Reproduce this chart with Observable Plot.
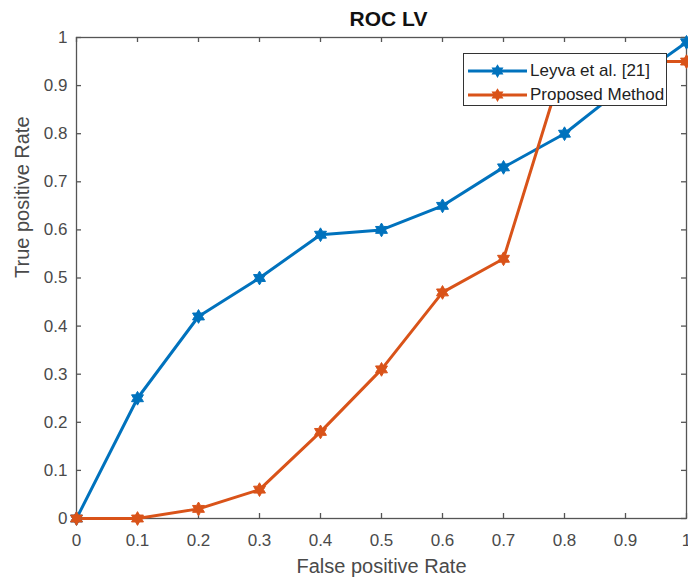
<!DOCTYPE html>
<html><head><meta charset="utf-8">
<script src="https://cdn.jsdelivr.net/npm/d3@7"></script>
<script src="https://cdn.jsdelivr.net/npm/@observablehq/plot@0.6"></script>
<style>
body{margin:0;background:#fff;font-family:"Liberation Sans",Arial,sans-serif;}
#wrap{position:relative;width:688px;height:581px;overflow:hidden;background:#fff}
#legend{position:absolute;left:463px;top:53px;width:204px;height:53px;border:1px solid #333;background:#fff;box-sizing:border-box}
.row{position:absolute;left:0;height:24px;display:flex;align-items:center}
.row svg{margin-left:4px}
.row span{margin-left:3px;font-size:17px;color:#222;white-space:nowrap}
</style></head><body><div id="wrap"></div>
<script>
// Data
const fpr      = [0, 0.1, 0.2, 0.3, 0.4, 0.5, 0.6, 0.7, 0.8, 0.9, 1.0];
const leyva    = [0, 0.25, 0.42, 0.50, 0.59, 0.60, 0.65, 0.73, 0.80, 0.90, 0.99];
const proposed = [0, 0.00, 0.02, 0.06, 0.18, 0.31, 0.47, 0.54, 0.95, 0.95, 0.95];
const seriesNames = ["Leyva et al. [21]", "Proposed Method"];
const seriesColors = ["#0072BD", "#D95319"];
const xTicks = [0, 0.1, 0.2, 0.3, 0.4, 0.5, 0.6, 0.7, 0.8, 0.9, 1];
const yTicks = [0, 0.1, 0.2, 0.3, 0.4, 0.5, 0.6, 0.7, 0.8, 0.9, 1];
const titleText = "ROC LV";
const xLabel = "False positive Rate";
const yLabel = "True positive Rate";

const table = [
  ...fpr.map((x, i) => ({x, y: leyva[i], s: seriesNames[0]})),
  ...fpr.map((x, i) => ({x, y: proposed[i], s: seriesNames[1]}))
];

const hexagram = {
  draw(ctx, size) {
    const R = Math.sqrt(size / Math.PI) * 1.25;
    const r = R / Math.sqrt(3);
    for (let i = 0; i < 12; i++) {
      const a = i * Math.PI / 6 + Math.PI / 2;
      const rad = i % 2 ? r : R;
      const px = rad * Math.cos(a), py = rad * Math.sin(a);
      if (i === 0) ctx.moveTo(px, py); else ctx.lineTo(px, py);
    }
    ctx.closePath();
  }
};

const W = 688, H = 581, mL = 76, mR = 2, mT = 37, mB = 63;
const fw = W - mL - mR, fh = H - mT - mB, tk = 5;
const axisColor = "#555", textColor = "#4a4a4a";

const chart = Plot.plot({
  width: W, height: H,
  marginLeft: mL, marginRight: mR, marginTop: mT, marginBottom: mB,
  style: {fontFamily: "'Liberation Sans', Arial, sans-serif", background: "#fff", overflow: "visible"},
  x: {domain: [0, 1]},
  y: {domain: [0, 1]},
  color: {domain: seriesNames, range: seriesColors},
  marks: [
    Plot.axisX({ticks: xTicks, tickSize: 0, tickPadding: 15, tickFormat: d => String(d), fontSize: 17, color: textColor, label: null}),
    Plot.axisY({ticks: yTicks, tickSize: 0, tickPadding: 9, tickFormat: d => String(d), fontSize: 17, color: textColor, label: null}),
    Plot.frame({stroke: axisColor, strokeWidth: 1.3}),
    Plot.tickX(xTicks, {x: d => d, insetTop: fh - tk, stroke: axisColor, strokeWidth: 1.3}),
    Plot.tickX(xTicks, {x: d => d, insetBottom: fh - tk, stroke: axisColor, strokeWidth: 1.3}),
    Plot.tickY(yTicks, {y: d => d, insetRight: fw - tk, stroke: axisColor, strokeWidth: 1.3}),
    Plot.tickY(yTicks, {y: d => d, insetLeft: fw - tk, stroke: axisColor, strokeWidth: 1.3}),
    Plot.line(table, {x: "x", y: "y", z: "s", stroke: "s", strokeWidth: 3}),
    Plot.dot(table, {x: "x", y: "y", fill: "s", symbol: hexagram, r: 5.5, stroke: "s", strokeWidth: 1}),
    Plot.text([titleText], {text: d => d, frameAnchor: "top", dy: -18, dx: 7, fontSize: 21, fontWeight: "bold", fill: "#111", lineAnchor: "middle"}),
    Plot.text([xLabel], {text: d => d, frameAnchor: "bottom", dy: 48, fontSize: 20, fill: textColor, lineAnchor: "middle"}),
    Plot.text([yLabel], {text: d => d, frameAnchor: "left", dx: -54, rotate: -90, fontSize: 20, fill: textColor, lineAnchor: "middle"})
  ]
});

const wrap = document.getElementById("wrap");
wrap.appendChild(chart);

// Legend overlay
const legend = document.createElement("div");
legend.id = "legend";
seriesNames.forEach((name, i) => {
  const row = document.createElement("div");
  row.className = "row";
  row.style.top = (5 + i * 24) + "px";
  const ns = "http://www.w3.org/2000/svg";
  const sv = document.createElementNS(ns, "svg");
  sv.setAttribute("width", 59); sv.setAttribute("height", 14);
  const ln = document.createElementNS(ns, "line");
  ln.setAttribute("x1", 0); ln.setAttribute("x2", 59);
  ln.setAttribute("y1", 7); ln.setAttribute("y2", 7);
  ln.setAttribute("stroke", seriesColors[i]); ln.setAttribute("stroke-width", 3);
  sv.appendChild(ln);
  const mk = document.createElementNS(ns, "path");
  mk.setAttribute("d", d3.symbol(hexagram, 5.5 * 5.5 * Math.PI)());
  mk.setAttribute("transform", "translate(29.5,7)");
  mk.setAttribute("fill", seriesColors[i]);
  sv.appendChild(mk);
  row.appendChild(sv);
  const sp = document.createElement("span");
  sp.textContent = name;
  row.appendChild(sp);
  legend.appendChild(row);
});
wrap.appendChild(legend);
</script>
</body></html>
